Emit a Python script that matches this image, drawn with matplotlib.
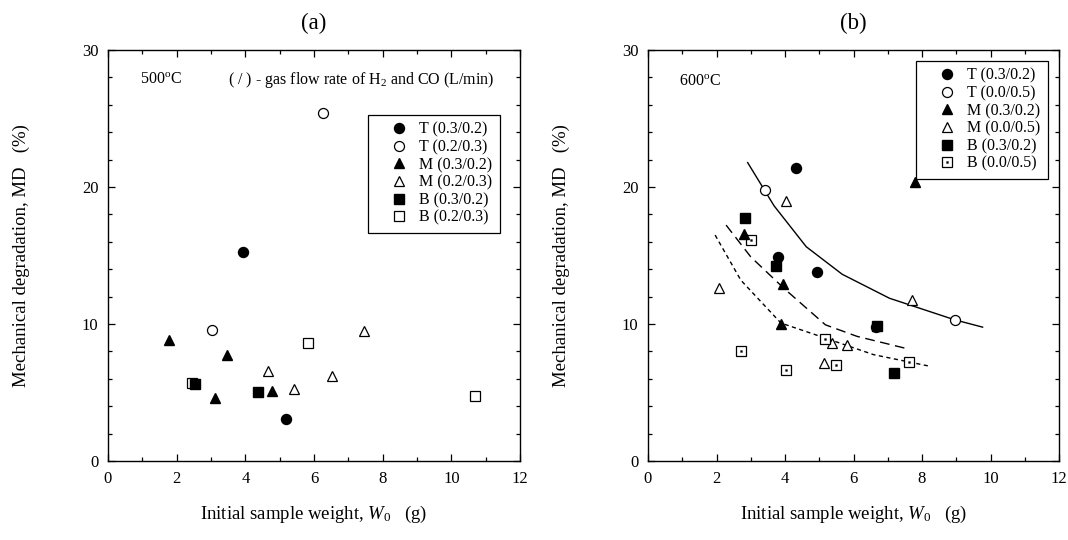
import matplotlib
matplotlib.use("Agg")
import matplotlib.pyplot as plt
from matplotlib.ticker import MultipleLocator
from matplotlib.legend_handler import HandlerTuple

plt.rcParams["font.family"] = ["Liberation Serif", "DejaVu Serif"]
plt.rcParams["mathtext.fontset"] = "custom"
plt.rcParams["mathtext.rm"] = "Liberation Serif"
plt.rcParams["mathtext.it"] = "Liberation Serif:italic"

# (a) 500 C
a_T1_x = [3.92, 5.17]
a_T1_y = [15.28, 3.03]
a_T2_x = [6.26, 3.03]
a_T2_y = [25.37, 9.58]
a_M1_x = [1.77, 3.47, 3.13, 4.77]
a_M1_y = [8.80, 7.76, 4.58, 5.09]
a_M2_x = [4.67, 5.41, 6.51, 7.46]
a_M2_y = [6.60, 5.29, 6.18, 9.51]
a_B1_x = [2.52, 4.37]
a_B1_y = [5.65, 5.04]
a_B2_x = [2.46, 5.82, 10.70]
a_B2_y = [5.70, 8.61, 4.73]
a_labels = ["T (0.3/0.2)", "T (0.2/0.3)", "M (0.3/0.2)",
            "M (0.2/0.3)", "B (0.3/0.2)", "B (0.2/0.3)"]

# (b) 600 C
b_T1_x = [4.31, 3.81, 4.94, 6.67]
b_T1_y = [21.39, 14.89, 13.80, 9.75]
b_T2_x = [3.41, 8.95]
b_T2_y = [19.77, 10.31]
b_M1_x = [2.81, 3.94, 3.88, 7.80]
b_M1_y = [16.60, 12.90, 10.00, 20.37]
b_M2_x = [4.03, 2.08, 7.70, 5.37, 5.81, 5.13]
b_M2_y = [18.97, 12.60, 11.78, 8.60, 8.50, 7.13]
b_B1_x = [2.83, 3.74, 6.68, 7.17]
b_B1_y = [17.75, 14.20, 9.82, 6.43]
b_B2_x = [3.00, 2.71, 4.03, 5.17, 5.48, 7.62]
b_B2_y = [16.10, 8.03, 6.65, 8.92, 7.03, 7.23]
b_labels = ["T (0.3/0.2)", "T (0.0/0.5)", "M (0.3/0.2)",
            "M (0.0/0.5)", "B (0.3/0.2)", "B (0.0/0.5)"]

# trend curves in (b)
fit_T_x = [2.91, 3.68, 4.62, 5.67, 7.05, 8.95, 9.77]
fit_T_y = [21.78, 18.63, 15.64, 13.63, 11.88, 10.31, 9.77]
fit_M_x = [2.28, 3.00, 3.97, 5.18, 6.10, 7.61]
fit_M_y = [17.22, 14.90, 12.60, 9.94, 9.10, 8.17]
fit_B_x = [1.96, 2.71, 3.88, 5.18, 6.59, 8.24]
fit_B_y = [16.49, 13.20, 10.07, 8.97, 7.76, 6.91]

fig = plt.figure(figsize=(10.68, 5.4), dpi=100)
ax1 = fig.add_axes([108 / 1068, 1 - 461 / 540, 412 / 1068, 411 / 540])
ax2 = fig.add_axes([648 / 1068, 1 - 461 / 540, 411 / 1068, 411 / 540])

ms_circ = 7.2
ms_sq = 7.0
ms_tri = 7.0


def scatter_set(ax, data):
    (t1x, t1y), (t2x, t2y), (m1x, m1y), (m2x, m2y), (b1x, b1y), (b2x, b2y), dotted = data
    t2 = ax.plot(t2x, t2y, "o", ms=ms_circ, mfc="white", mec="k", mew=0.9, ls="none")[0]
    m2 = ax.plot(m2x, m2y, "^", ms=ms_tri, mfc="white", mec="k", mew=0.9, ls="none")[0]
    b2 = ax.plot(b2x, b2y, "s", ms=ms_sq, mfc="white", mec="k", mew=0.9, ls="none")[0]
    if dotted:
        dot = ax.plot(b2x, b2y, "s", ms=1.3, mfc="k", mec="k", mew=0.3, ls="none")[0]
        b2 = (b2, dot)
    t1 = ax.plot(t1x, t1y, "o", ms=ms_circ, mfc="k", mec="k", ls="none")[0]
    m1 = ax.plot(m1x, m1y, "^", ms=ms_tri, mfc="k", mec="k", ls="none")[0]
    b1 = ax.plot(b1x, b1y, "s", ms=ms_sq, mfc="k", mec="k", ls="none")[0]
    return [t1, t2, m1, m2, b1, b2]


def style_axes(ax):
    ax.set_xlim(0, 12)
    ax.set_ylim(0, 30)
    ax.xaxis.set_major_locator(MultipleLocator(2))
    ax.xaxis.set_minor_locator(MultipleLocator(1))
    ax.yaxis.set_major_locator(MultipleLocator(10))
    ax.yaxis.set_minor_locator(MultipleLocator(2))
    ax.tick_params(which="both", direction="in", top=True, right=True,
                   labelsize=12, width=0.9, pad=7)
    ax.tick_params(which="major", length=5)
    ax.tick_params(which="minor", length=2.8)
    for s in ax.spines.values():
        s.set_linewidth(1.0)
    ax.set_xlabel("Initial sample weight, $W_{0}$   (g)", fontsize=13.5)
    ax.set_ylabel("Mechanical degradation, MD   (%)", fontsize=13.5)
    ax.xaxis.set_label_coords(0.5, -0.105)
    ax.yaxis.set_label_coords(-0.19, 0.5)


def add_legend(ax, handles, labels, anchor):
    leg = ax.legend(handles, labels, loc="upper right", bbox_to_anchor=anchor,
                    fontsize=11.5, frameon=True, fancybox=False, edgecolor="k",
                    framealpha=1, labelspacing=0.1, handlelength=3.0,
                    handletextpad=-0.2, borderpad=0.45, borderaxespad=0,
                    handler_map={tuple: HandlerTuple(ndivide=1, pad=0)})
    leg.get_frame().set_linewidth(0.9)


# panel (a)
ha = scatter_set(ax1, [(a_T1_x, a_T1_y), (a_T2_x, a_T2_y), (a_M1_x, a_M1_y),
                       (a_M2_x, a_M2_y), (a_B1_x, a_B1_y), (a_B2_x, a_B2_y), False])
style_axes(ax1)
add_legend(ax1, ha, a_labels, (0.951, 0.843))
ax1.text(0.93, 27.8, "500$^{\\rm o}$C", fontsize=11.5, va="center")
ax1.text(3.5, 27.8, "( / ) - gas flow rate of H$_2$ and CO (L/min)", fontsize=11.5, va="center")
ax1.set_title("(a)", fontsize=16.5, pad=15)

# panel (b)
ax2.plot(fit_T_x, fit_T_y, "-", color="k", lw=1.0)
ax2.plot(fit_M_x, fit_M_y, color="k", lw=1.0, dashes=(7, 4))
ax2.plot(fit_B_x, fit_B_y, color="k", lw=1.0, dashes=(3, 2.5))
hb = scatter_set(ax2, [(b_T1_x, b_T1_y), (b_T2_x, b_T2_y), (b_M1_x, b_M1_y),
                       (b_M2_x, b_M2_y), (b_B1_x, b_B1_y), (b_B2_x, b_B2_y), True])
style_axes(ax2)
add_legend(ax2, hb, b_labels, (0.973, 0.974))
ax2.text(0.91, 27.7, "600$^{\\rm o}$C", fontsize=11.5, va="center")
ax2.set_title("(b)", fontsize=16.5, pad=15)

fig.savefig("out.png", dpi=100)
